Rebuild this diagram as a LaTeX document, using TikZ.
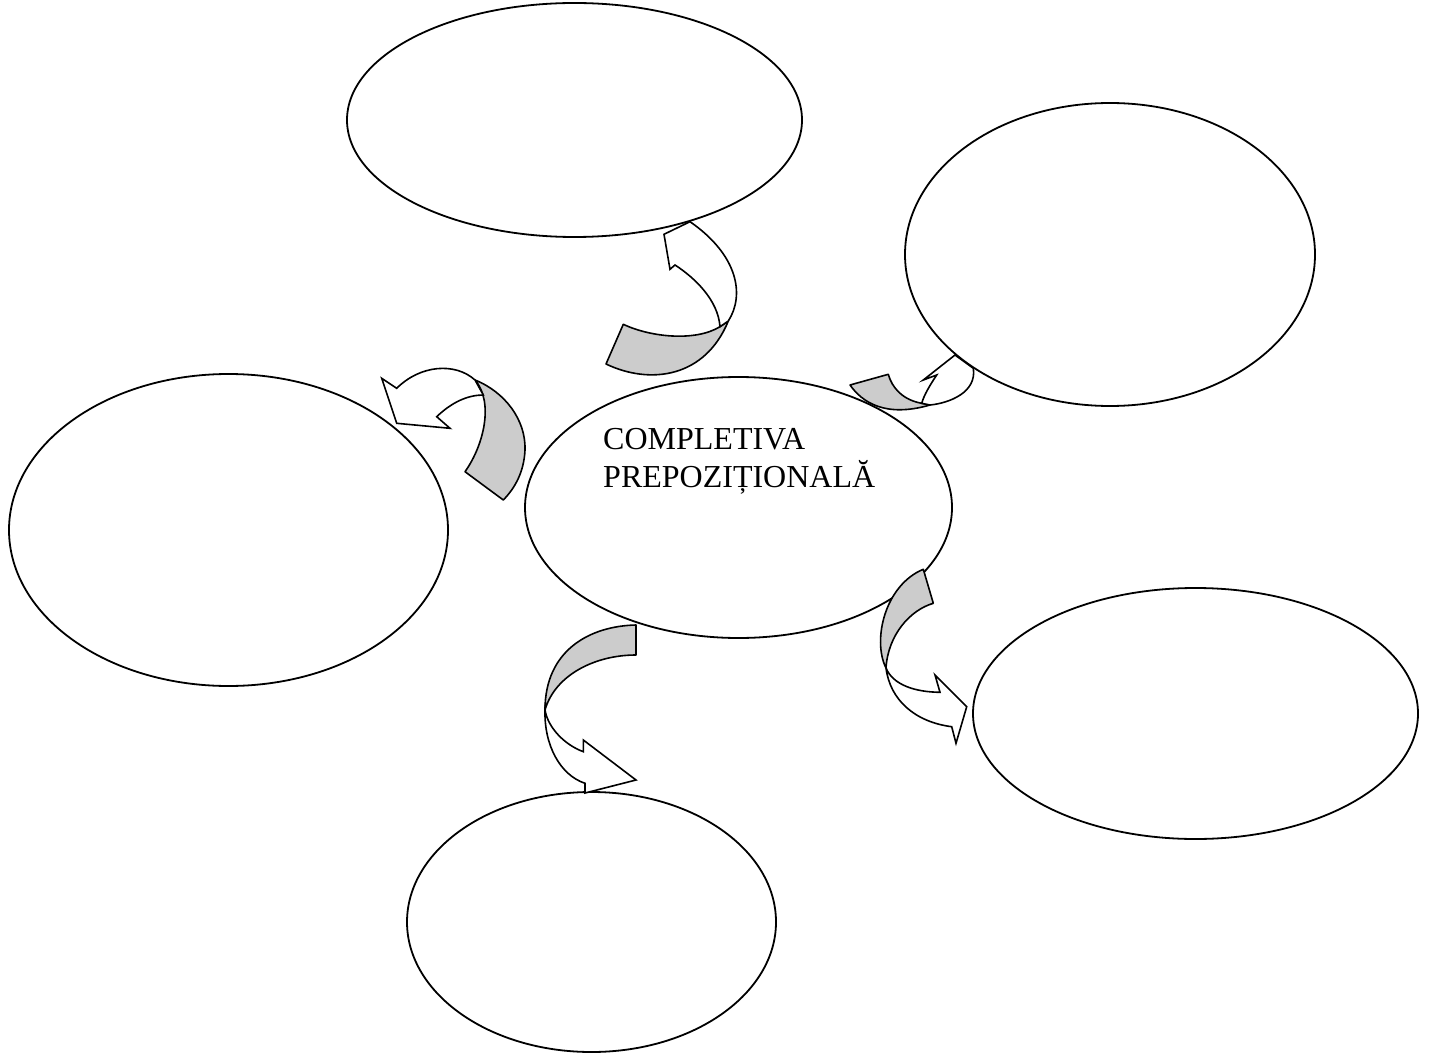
\documentclass[tikz,border=0pt]{standalone}
\usepackage{fontspec}
\setmainfont{Liberation Serif}
\usetikzlibrary{shapes.geometric}
\definecolor{bandgray}{RGB}{204,204,204}

\begin{document}
\begin{tikzpicture}[x=1pt,y=-1pt,
  bubble/.style={draw,ellipse,line width=1.8pt,inner sep=0pt},
  back/.style={draw,fill=bandgray,line width=1.6pt,line join=round},
  front/.style={draw,fill=white,line width=1.6pt,line join=miter}]
 \useasboundingbox (0,0) rectangle (1431,1056);
 % the six bubbles
 \node[bubble,minimum width=455,minimum height=234] (up) at (574.5,120) {};
 \node[bubble,minimum width=410,minimum height=303] (upr) at (1110,254.5) {};
 \node[bubble,minimum width=439,minimum height=312] (lft) at (228.5,530) {};
 \node[bubble,minimum width=427,minimum height=261] (mid) at (738.5,507.5) {};
 \node[bubble,minimum width=445,minimum height=251] (rgt) at (1195.5,713.5) {};
 \node[bubble,minimum width=369,minimum height=260] (down) at (591.5,922) {};
 \node[anchor=north west,inner sep=0pt,align=left,
   font=\fontsize{32}{38}\selectfont] (title) at (603,428)
   {COMPLETIVA\\PREPOZIȚIONALĂ};
 % curved arrow up to (up)
 \path[back] (623.3,324.3) .. controls (650,337) and (695,342) .. (720,326.7)
   -- (728.3,321) .. controls (705,378) and (650,385) .. (606,364) -- cycle;
 \path[front] (728.3,321) .. controls (745,295) and (738,255) .. (690,221.7)
   -- (664,234.3) -- (670,269.3) -- (675,265)
   .. controls (695,278) and (718,300) .. (720,326.7) -- cycle;
 % curved arrow to (upr)
 \path[back] (888.3,374.3) .. controls (892,388) and (903,400) .. (921.7,403.3)
   -- (930,405) .. controls (885,418) and (862,402) .. (850,385) -- cycle;
 \path[front] (930,405) .. controls (950,403) and (977,392) .. (973.3,368.3)
   -- (955,355) -- (923.3,380) -- (936.7,375)
   .. controls (930,385) and (924,395) .. (921.7,403.3) -- cycle;
 % curved arrow to (lft)
 \path[back] (475,380) .. controls (505,392) and (526,420) .. (525,450)
   .. controls (524,472) and (515,488) .. (503.3,500) -- (465,471.7)
   .. controls (484,445) and (494,402) .. (475,380) -- cycle;
 \path[front] (475,380) .. controls (455,362) and (420,365) .. (396.7,388.3)
   -- (381.7,378.3) -- (396.7,423.3) -- (450,428.3) -- (436.7,416.7)
   .. controls (452,402) and (468,395) .. (483.3,395) -- cycle;
 % curved arrow to (down)
 \path[back] (636,625) .. controls (590,626) and (545,650) .. (545,710)
   .. controls (555,675) and (595,655) .. (636,655) -- cycle;
 \path[front] (545,710) .. controls (544,745) and (560,775) .. (585,783.3)
   -- (585,793) -- (636,780) -- (583.3,740) -- (583.3,751.7)
   .. controls (565,745) and (548,728) .. (545,710) -- cycle;
 % curved arrow to (rgt)
 \path[back] (923.3,569.3) .. controls (885,585) and (872,640) .. (886,668)
   .. controls (888,635) and (910,610) .. (933.3,603.3) -- cycle;
 \path[front] (886,668) .. controls (890,700) and (915,722) .. (951.7,726.7)
   -- (956,743.3) -- (966.7,706.7) -- (935,675) -- (940,692.3)
   .. controls (915,692) and (893,685) .. (886,668) -- cycle;
\end{tikzpicture}
\end{document}
